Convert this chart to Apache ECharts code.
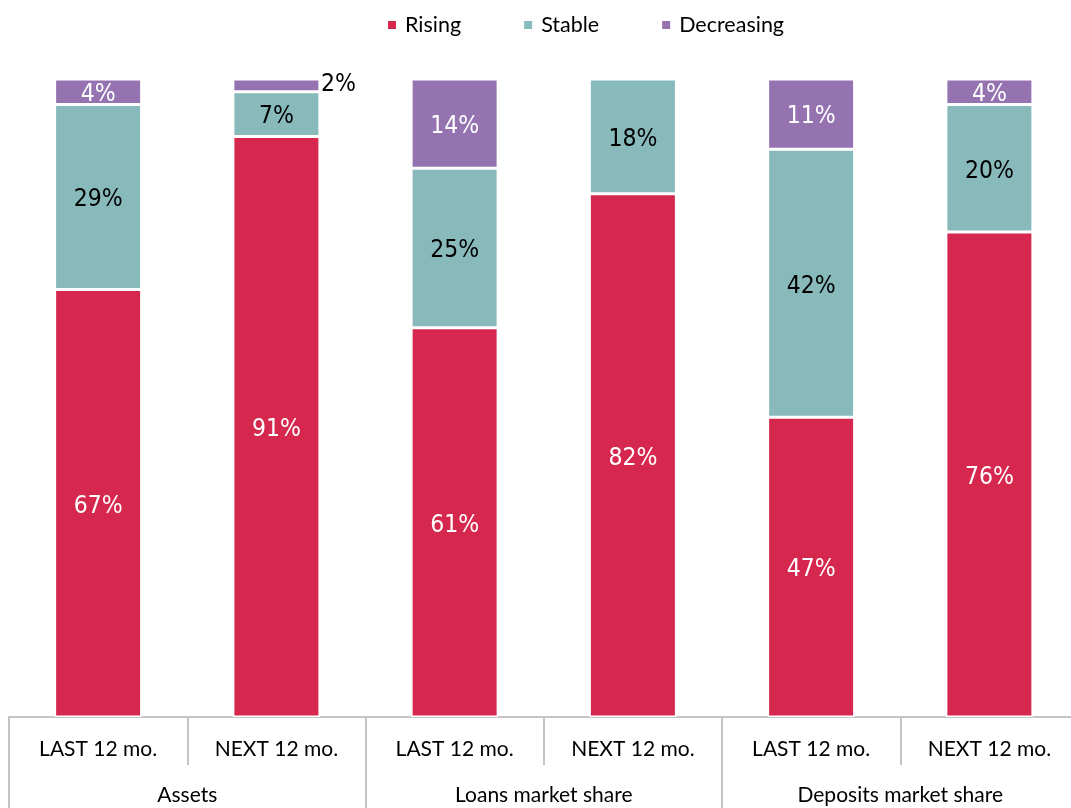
<!DOCTYPE html>
<html><head><meta charset="utf-8">
<script src="https://cdn.jsdelivr.net/npm/echarts@6/dist/echarts.min.js"></script>
<style>html,body{margin:0;padding:0;background:#fff}#c{width:1071px;height:808px}</style>
</head><body><div id="c"></div>
<script>
const periods = ['LAST 12 mo.', 'NEXT 12 mo.', 'LAST 12 mo.', 'NEXT 12 mo.', 'LAST 12 mo.', 'NEXT 12 mo.'];
const groups = ['Assets', 'Loans market share', 'Deposits market share'];
const rising = [67, 91, 61, 82, 47, 76];
const stable = [29, 7, 25, 18, 42, 20];
const decreasing = [4, 2, 14, 0, 11, 4];

const labelFont = '"Liberation Sans Narrow", "Arial Narrow", "DejaVu Sans Condensed", sans-serif';
const textFont = 'Lato, "Liberation Sans", sans-serif';

function mkData(arr) {
  return arr.map(v => {
    const item = { value: v };
    if (v < 3 && v > 0) {
      item.label = { position: 'right', distance: 1, color: '#000', offset: [0, -1] };
    }
    return item;
  });
}

const chart = echarts.init(document.getElementById('c'), null, { renderer: 'canvas' });
const baseLabel = (color) => ({
  show: true, position: 'inside', color: color,
  fontFamily: labelFont, fontSize: 24.5, offset: [0, 3],
  formatter: p => p.value > 0 ? p.value + '%' : ''
});
chart.setOption({
  animation: false,
  legend: {
    top: 9, left: 381, itemWidth: 10, itemHeight: 10, itemGap: 61, icon: 'rect',
    textStyle: { fontFamily: textFont, fontSize: 21.5, color: '#000', padding: [0, 0, 0, 3] },
    data: ['Rising', 'Stable', 'Decreasing']
  },
  grid: { left: 9, width: 1069.5, top: 79, bottom: 91, containLabel: false, outerBoundsMode: 'none' },
  yAxis: { type: 'value', min: 0, max: 100, show: false },
  xAxis: [
    {
      type: 'category', data: periods, position: 'bottom',
      axisLine: { show: true, lineStyle: { color: '#c4c4c4', width: 2 } },
      axisTick: { show: true, length: 48, lineStyle: { color: '#c4c4c4', width: 2 } },
      axisLabel: { margin: 22, fontFamily: textFont, fontSize: 21, color: '#000', interval: 0 }
    },
    {
      type: 'category', data: groups, position: 'bottom', offset: 0,
      axisLine: { show: false },
      axisTick: { show: true, length: 95, lineStyle: { color: '#c4c4c4', width: 2 } },
      axisLabel: { margin: 68, fontFamily: textFont, fontSize: 21, color: '#000', interval: 0 }
    }
  ],
  series: [
    {
      name: 'Rising', type: 'bar', stack: 'total', barWidth: 87, xAxisIndex: 0,
      itemStyle: { color: '#D6284F', borderColor: '#fff', borderWidth: 1.5 },
      label: baseLabel('#fff'), data: mkData(rising)
    },
    {
      name: 'Stable', type: 'bar', stack: 'total', barWidth: 87, xAxisIndex: 0,
      itemStyle: { color: '#88BABC', borderColor: '#fff', borderWidth: 1.5 },
      label: baseLabel('#000'), data: mkData(stable)
    },
    {
      name: 'Decreasing', type: 'bar', stack: 'total', barWidth: 87, xAxisIndex: 0,
      itemStyle: { color: '#9473B0', borderColor: '#fff', borderWidth: 1.5 },
      label: baseLabel('#fff'), data: mkData(decreasing)
    }
  ]
});
</script></body></html>
